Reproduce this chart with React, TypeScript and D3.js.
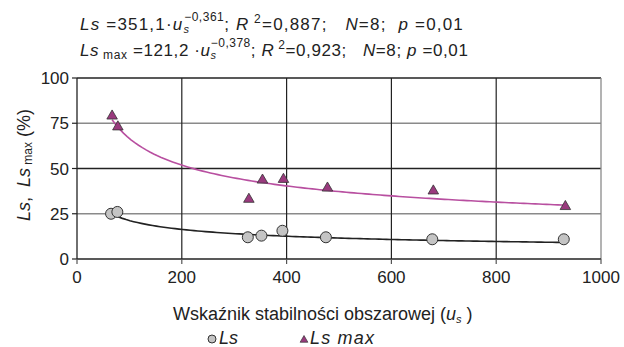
import React from "react";
import * as d3 from "d3";

// values
const lsU = [65, 77, 326, 352, 392, 475, 678, 929];
const lsVal = [25, 26, 12, 12.9, 15.6, 12, 10.9, 10.9];
const lsMaxU = [67, 78, 328, 354, 394, 478, 680, 932];
const lsMaxVal = [79, 73, 33, 43.6, 44, 39.2, 37.6, 29];

const xTicks = [0, 200, 400, 600, 800, 1000];
const yTicks = [0, 25, 50, 75, 100];

// power trendlines y = a * u^b
const fitMax = { a: 351.1, b: -0.361 };
const fitLs = { a: 121.2, b: -0.378 };

const FONT = "'Liberation Sans', Arial, sans-serif";
const INK = "#222";
const MAGENTA = "#b84fa0";
const TRI = "#9a3a7e";

const width = 624;
const height = 347;
const sp = (n: number) => "\u00A0".repeat(n);

const App = () => {
  const x = d3.scaleLinear().domain([0, 1000]).range([77, 601]);
  const y = d3.scaleLinear().domain([0, 100]).range([259, 78]);

  const trend = (fit: { a: number; b: number }, us: number[]) => {
    const lo = d3.min(us) as number;
    const hi = d3.max(us) as number;
    const pts = d3.range(lo, hi, (hi - lo) / 120).concat([hi]);
    return d3
      .line<number>()
      .x((u) => x(u))
      .y((u) => y(fit.a * Math.pow(u, fit.b)))(pts) as string;
  };

  const tri = d3.symbol().type(d3.symbolTriangle).size(48)() as string;

  const gridColor = (v: number) => (v === 25 || v === 75 ? "#8a8a8a" : "#222");

  return (
    <svg
      width={width}
      height={height}
      style={{ position: "absolute", left: 0, top: 0, background: "#fff" }}
      fontFamily={FONT}
    >
      {/* equations */}
      <g fontSize={17} fill={INK}>
        <text x={80} y={30} letterSpacing={1.2}>
          <tspan fontStyle="italic">Ls</tspan>
          <tspan>{sp(1) + "=351,1·"}</tspan>
          <tspan fontStyle="italic">u</tspan>
          <tspan fontStyle="italic" fontSize={11} dy={3}>s</tspan>
          <tspan fontSize={12} dx={-6} dy={-12} letterSpacing={0.5}>−0,361</tspan>
          <tspan dy={9}>{";" + sp(1)}</tspan>
          <tspan fontStyle="italic">R</tspan>
          <tspan fontSize={12} dy={-7}>{sp(1) + "2"}</tspan>
          <tspan dy={7}>{"=0,887;" + sp(3)}</tspan>
          <tspan fontStyle="italic">N</tspan>
          <tspan>{"=8;" + sp(2)}</tspan>
          <tspan fontStyle="italic">p</tspan>
          <tspan>{sp(1) + "=0,01"}</tspan>
        </text>
        <text x={80} y={56} letterSpacing={0.6}>
          <tspan fontStyle="italic">Ls</tspan>
          <tspan fontSize={12} dy={3}>{sp(1) + "max"}</tspan>
          <tspan dy={-3}>{sp(1) + "=121,2" + sp(1) + "·"}</tspan>
          <tspan fontStyle="italic">u</tspan>
          <tspan fontStyle="italic" fontSize={11} dy={3}>s</tspan>
          <tspan fontSize={12} dx={-6} dy={-12} letterSpacing={0.5}>−0,378</tspan>
          <tspan dy={9}>{";" + sp(1)}</tspan>
          <tspan fontStyle="italic">R</tspan>
          <tspan fontSize={12} dy={-7}>{sp(1) + "2"}</tspan>
          <tspan dy={7}>{"=0,923;" + sp(3)}</tspan>
          <tspan fontStyle="italic">N</tspan>
          <tspan>{"=8;" + sp(1)}</tspan>
          <tspan fontStyle="italic">p</tspan>
          <tspan>{sp(1) + "=0,01"}</tspan>
        </text>
      </g>

      {/* grid */}
      {yTicks.slice(1).map((v) => (
        <line
          key={"h" + v}
          x1={x(0)}
          x2={x(1000)}
          y1={y(v)}
          y2={y(v)}
          stroke={gridColor(v)}
          strokeWidth={1.3}
        />
      ))}
      {xTicks.slice(1, -1).map((v) => (
        <line
          key={"v" + v}
          x1={x(v)}
          x2={x(v)}
          y1={y(0)}
          y2={y(100)}
          stroke="#222"
          strokeWidth={1.2}
        />
      ))}
      <line x1={x(1000)} x2={x(1000)} y1={y(0)} y2={y(100)} stroke="#8a8a8a" strokeWidth={1.3} />

      {/* axes */}
      <line x1={x(0)} x2={x(0)} y1={y(0)} y2={y(100)} stroke="#222" strokeWidth={1.3} />
      <line x1={x(0)} x2={x(1000)} y1={y(0)} y2={y(0)} stroke="#222" strokeWidth={1.3} />
      {yTicks.map((v) => (
        <g key={"yt" + v}>
          <line x1={x(0) - 5} x2={x(0)} y1={y(v)} y2={y(v)} stroke="#222" strokeWidth={1.2} />
          <text x={x(0) - 8} y={y(v) + 6} textAnchor="end" fontSize={17} fill={INK}>
            {v}
          </text>
        </g>
      ))}
      {xTicks.map((v) => (
        <g key={"xt" + v}>
          <line x1={x(v)} x2={x(v)} y1={y(0)} y2={y(0) + 5} stroke="#555" strokeWidth={1.2} />
          <text x={x(v)} y={y(0) + 24} textAnchor="middle" fontSize={17} fill={INK}>
            {v}
          </text>
        </g>
      ))}

      {/* axis titles */}
      <text
        transform={`translate(30,165) rotate(-90)`}
        textAnchor="middle"
        fontSize={18}
        fill={INK}
      >
        <tspan fontStyle="italic">Ls</tspan>
        <tspan>{"," + sp(2)}</tspan>
        <tspan fontStyle="italic">Ls</tspan>
        <tspan fontSize={12} dy={2}>{sp(1) + "max"}</tspan>
        <tspan dy={-2}>{sp(1) + "(%)"}</tspan>
      </text>
      <text x={173} y={320} fontSize={18} fill={INK}>
        <tspan>Wskaźnik stabilności obszarowej (</tspan>
        <tspan fontStyle="italic">u</tspan>
        <tspan fontStyle="italic" fontSize={11} dy={3}>s</tspan>
        <tspan dy={-3}>{sp(1) + ")"}</tspan>
      </text>

      {/* trendlines */}
      <path d={trend(fitMax, lsMaxU)} fill="none" stroke={MAGENTA} strokeWidth={1.6} />
      <path d={trend(fitLs, lsU)} fill="none" stroke="#222" strokeWidth={1.6} />

      {/* points */}
      {lsU.map((u, i) => (
        <circle
          key={"c" + i}
          cx={x(u)}
          cy={y(lsVal[i])}
          r={5.5}
          fill="#c4c4c4"
          stroke="#333"
          strokeWidth={1}
        />
      ))}
      {lsMaxU.map((u, i) => (
        <path
          key={"t" + i}
          d={tri}
          transform={`translate(${x(u)},${y(lsMaxVal[i])})`}
          fill={TRI}
          stroke="#333"
          strokeWidth={0.8}
        />
      ))}

      {/* legend */}
      <circle cx={212} cy={339} r={4} fill="#c4c4c4" stroke="#333" strokeWidth={1} />
      <text x={219} y={344} fontSize={18} fontStyle="italic" fill={INK}>Ls</text>
      <path
        d={d3.symbol().type(d3.symbolTriangle).size(26)() as string}
        transform="translate(304,340)"
        fill={TRI}
        stroke="#333"
        strokeWidth={0.7}
      />
      <text x={310} y={344} fontSize={18} fontStyle="italic" fill={INK} letterSpacing={1.2}>
        {"Ls" + sp(1) + "max"}
      </text>
    </svg>
  );
};

export default App;
